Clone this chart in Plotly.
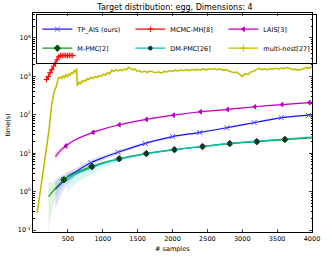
import plotly.graph_objects as go

# ---------------- data ----------------
tp_x = [320, 400, 500, 600, 800, 1000, 1200, 1600, 2000, 2400, 2800, 3200, 3600, 4000]
tp_y = [1.15, 1.6, 2.5, 3.2, 5.3, 7.6, 10.3, 17.8, 27, 35, 47, 64, 86, 100]
tp_lo = [0.34, 0.8, 1.6, 2.4, 4.3, 6.5, 9.2, 16.4, 25, 32.5, 44, 60, 81, 95]
tp_hi = [2.0, 2.6, 3.3, 4.0, 6.4, 8.8, 11.5, 19.2, 29, 37.5, 50, 68, 91, 105]
tp_mx = [440, 830, 1220, 1610, 2000, 2390, 2780, 3170, 3560, 3950]
tp_my = [2.05, 5.6, 10.6, 17.9, 27, 34.5, 46, 63, 84, 97]

mh_x = [194, 220, 245, 270, 295, 320, 345, 370, 395, 420, 445, 470, 495, 520, 545, 570]
mh_y = [830, 1000, 1250, 1500, 1850, 2200, 2700, 3250, 3500, 3450, 3550, 3500, 3450, 3550, 3500, 3480]

la_x = [320, 400, 472, 600, 861, 1000, 1236, 1625, 2014, 2400, 2790, 3180, 3570, 3960, 4000]
la_y = [8.1, 12, 15.5, 22, 35, 42, 55, 76, 98, 120, 138, 162, 185, 207, 210]
la_lo = [6.0, 10.2, 14.0, 20.5, 33.5, 40.5, 53, 73.5, 95, 117, 135, 158, 181, 203, 206]
la_hi = [11.0, 14.0, 17.3, 23.6, 36.5, 43.5, 57, 78.5, 101, 123, 141, 166, 189, 211, 214]
la_mx = [472, 861, 1236, 1625, 2014, 2400, 2790, 3180, 3570, 3960]
la_my = [15.5, 35, 55, 76, 98, 120, 138, 162, 185, 207]

mp_x = [222, 300, 444, 600, 847, 1000, 1236, 1625, 2028, 2430, 2820, 3208, 3611, 4000]
mp_y = [0.74, 1.1, 2.05, 3.0, 4.5, 5.6, 7.2, 9.8, 12.4, 14.9, 17.8, 20, 22.7, 25]
mp_lo = [0.08, 0.5, 1.5, 2.5, 4.0, 5.1, 6.7, 9.2, 11.7, 14.1, 16.9, 19.0, 21.6, 23.8]
mp_hi = [1.7, 1.8, 2.6, 3.5, 5.0, 6.1, 7.7, 10.4, 13.1, 15.7, 18.7, 21, 23.8, 26.2]
mp_mx = [444, 847, 1236, 1625, 2028, 2430, 2820, 3208, 3611]
mp_my = [2.05, 4.5, 7.2, 9.8, 12.4, 14.9, 17.8, 20, 22.7]

dm_x = [490, 600, 847, 1000, 1236, 1625, 2028, 2430, 2820, 3208, 3611, 4000]
dm_y = [2.0, 2.8, 4.2, 5.4, 7.0, 9.7, 12.4, 15.1, 18.1, 20.6, 23.5, 26.5]
dm_lo = [0.94, 1.6, 2.9, 4.0, 6.0, 8.8, 11.6, 14.2, 17.1, 19.5, 22.3, 25.2]
dm_hi = [3.1, 3.4, 4.8, 6.0, 7.7, 10.4, 13.2, 16.0, 19.1, 21.7, 24.7, 27.8]
dm_mx = [847, 1236, 1625, 2028, 2430, 2820, 3208, 3611]
dm_my = [4.3, 7.0, 9.7, 12.4, 15.1, 18.1, 20.6, 23.5]

mn_x = [60, 100, 130, 170, 200, 230, 267, 300, 335, 365, 390, 410, 430, 450, 470, 490,
        510, 530, 550, 570, 590, 610, 625, 635, 645, 660, 680, 700, 720, 740, 760, 780,
        800, 830, 860, 890, 920, 950, 980, 1010, 1040, 1070, 1100, 1130, 1160, 1190,
        1220, 1250, 1280, 1310, 1340, 1370, 1400, 1430, 1460, 1490, 1520, 1560, 1600,
        1640, 1680, 1720, 1760, 1800, 1840, 1880, 1920, 1960, 2000, 2040, 2080, 2120,
        2160, 2200, 2240, 2280, 2320, 2360, 2400, 2440, 2480, 2520, 2560, 2600, 2640,
        2680, 2720, 2760, 2800, 2840, 2880, 2920, 2960, 3000, 3040, 3080, 3120, 3160,
        3200, 3240, 3280, 3320, 3360, 3400, 3440, 3480, 3520, 3560, 3600, 3640, 3680,
        3720, 3760, 3800, 3840, 3880, 3920, 3960, 4000]
mn_y = [0.28, 0.9, 1.8, 5.5, 16, 40, 180, 380, 560, 900, 950, 880, 1050, 930, 1100, 990,
        1150, 1050, 1250, 1180, 1400, 1300, 1600, 560, 620, 700, 650, 760, 720, 800, 760, 880,
        830, 950, 880, 1000, 930, 1060, 1000, 1150, 1080, 1250, 1180, 1450, 1350, 1500,
        1380, 1520, 1420, 1550, 1480, 1720, 1600, 1480, 1560, 1380, 1420, 1300, 1360,
        1280, 1380, 1300, 1250, 1320, 1220, 1350, 1300, 1420, 1340, 1450, 1380, 1460,
        1400, 1500, 1420, 1530, 1460, 1520, 1450, 1560, 1480, 1580, 1520, 1600, 1500,
        1560, 1440, 1500, 1380, 1330, 1250, 1300, 1150, 1000, 1180, 1120, 1300, 1350,
        1500, 1620, 1500, 1580, 1480, 1600, 1550, 1620, 1560, 1640, 1580, 1700, 1600,
        1500, 1540, 1460, 1520, 1580, 1700, 1650, 1800]

x_ticks = [500, 1000, 1500, 2000, 2500, 3000, 3500, 4000]
y_decades = [0.1, 1, 10, 100, 1000, 10000]
y_ticktext = ["10<sup>-1</sup>", "10<sup>0</sup>", "10<sup>1</sup>", "10<sup>2</sup>",
              "10<sup>3</sup>", "10<sup>4</sup>"]

# ---------------- figure ----------------
FONT = "DejaVu Sans"
fig = go.Figure()


def band(x, lo, hi, fill):
    fig.add_trace(go.Scatter(x=x, y=hi, mode="lines", line=dict(width=0, shape="spline"),
                             showlegend=False, hoverinfo="skip"))
    fig.add_trace(go.Scatter(x=x, y=lo, mode="lines", line=dict(width=0, shape="spline"),
                             fill="tonexty", fillcolor=fill, showlegend=False, hoverinfo="skip"))


band(mp_x, mp_lo, mp_hi, "rgba(0,160,0,0.12)")
band(dm_x, dm_lo, dm_hi, "rgba(0,191,191,0.15)")
band(tp_x, tp_lo, tp_hi, "rgba(0,0,255,0.12)")
band(la_x, la_lo, la_hi, "rgba(191,0,191,0.15)")

series = [
    ("TP_AIS (ours)", tp_x, tp_y, tp_mx, tp_my, "#1a1aff", "x-thin-open", 5, "#4d4dff"),
    ("MCMC-MH[8]", mh_x, mh_y, mh_x, mh_y, "#ff0000", "cross-thin-open", 4, "#ff0000"),
    ("LAIS[3]", la_x, la_y, la_mx, la_my, "#bf00bf", "triangle-left", 4, "#bf00bf"),
    ("M-PMC[2]", mp_x, mp_y, mp_mx, mp_my, "#1f9a1f", "diamond", 5, "#005000"),
    ("DM-PMC[26]", dm_x, dm_y, dm_mx, dm_my, "#00bfbf", "hexagon", 4, "#103030"),
    ("multi-nest[27]", mn_x, mn_y, [], [], "#bfbf00", "cross-thin-open", 5, "#bfbf00"),
]

for name, x, y, mx, my, col, sym, msz, mcol in series:
    shape = "linear" if name.startswith("multi") or name.startswith("MCMC") else "spline"
    lw = 1.6 if name.startswith("multi") else 1.2
    fig.add_trace(go.Scatter(x=x, y=y, mode="lines", line=dict(color=col, width=lw, shape=shape),
                             showlegend=False))
    if mx:
        fig.add_trace(go.Scatter(x=mx, y=my, mode="markers",
                                 marker=dict(symbol=sym, size=msz, color=mcol,
                                             line=dict(color=mcol, width=1)),
                                 showlegend=False))

# legend-only entries
for name, x, y, mx, my, col, sym, msz, mcol in series:
    fig.add_trace(go.Scatter(x=[None], y=[None], mode="lines+markers", name=name,
                             line=dict(color=col, width=1.2),
                             marker=dict(symbol=sym, size=msz, color=mcol,
                                         line=dict(color=mcol, width=1))))

minor_vals = [d * k for d in y_decades[:-1] for k in range(2, 10)] + [d * 10000 for d in [2, 3, 4]]

fig.update_layout(
    width=332, height=259,
    margin=dict(l=33, r=14, t=13, b=27),
    paper_bgcolor="white", plot_bgcolor="white",
    font=dict(family=FONT, size=6.5, color="black"),
    title=dict(text="Target distribution: egg, Dimensions: 4", x=175 / 332,
               xanchor="center", y=1 - 7 / 259, yanchor="middle",
               font=dict(family=FONT, size=8, color="black")),
    showlegend=True,
    legend=dict(orientation="h", x=0.012, y=0.997, xanchor="left", yanchor="top",
                traceorder="normal",
                bgcolor="rgba(255,255,255,0)", bordercolor="black", borderwidth=1,
                font=dict(family=FONT, size=6.5, color="black"),
                entrywidth=48, entrywidthmode="pixels", itemwidth=30,
                tracegroupgap=0),
    xaxis=dict(range=[0, 4000], tickvals=x_ticks, ticks="inside", ticklen=3,
               showline=True, linecolor="black", linewidth=1, mirror="ticks",
               showgrid=False, zeroline=False, tickfont=dict(size=6.5)),
    yaxis=dict(type="log", range=[-1.05, 4.65], tickvals=y_decades, ticktext=y_ticktext,
               ticks="inside", ticklen=3, showline=True, linecolor="black", linewidth=1,
               mirror="ticks", showgrid=False, zeroline=False, tickfont=dict(size=6.5),
               minor=dict(tickvals=minor_vals, ticks="inside", ticklen=1.5,
                          tickcolor="black", showgrid=False)),
    annotations=[
        dict(text="# samples", x=0.5, y=-(249 - 232) / 219, xref="paper", yref="paper",
             showarrow=False, xanchor="center", yanchor="middle",
             font=dict(family=FONT, size=6.5)),
        dict(text="time(s)", x=(7 - 33) / 285, y=(232 - 125) / 219, xref="paper", yref="paper",
             showarrow=False, textangle=-90, xanchor="center", yanchor="middle",
             font=dict(family=FONT, size=6.5)),
    ],
)

fig.write_html("out.html", config={"displayModeBar": False},
               post_script="document.body.style.margin='0';")
